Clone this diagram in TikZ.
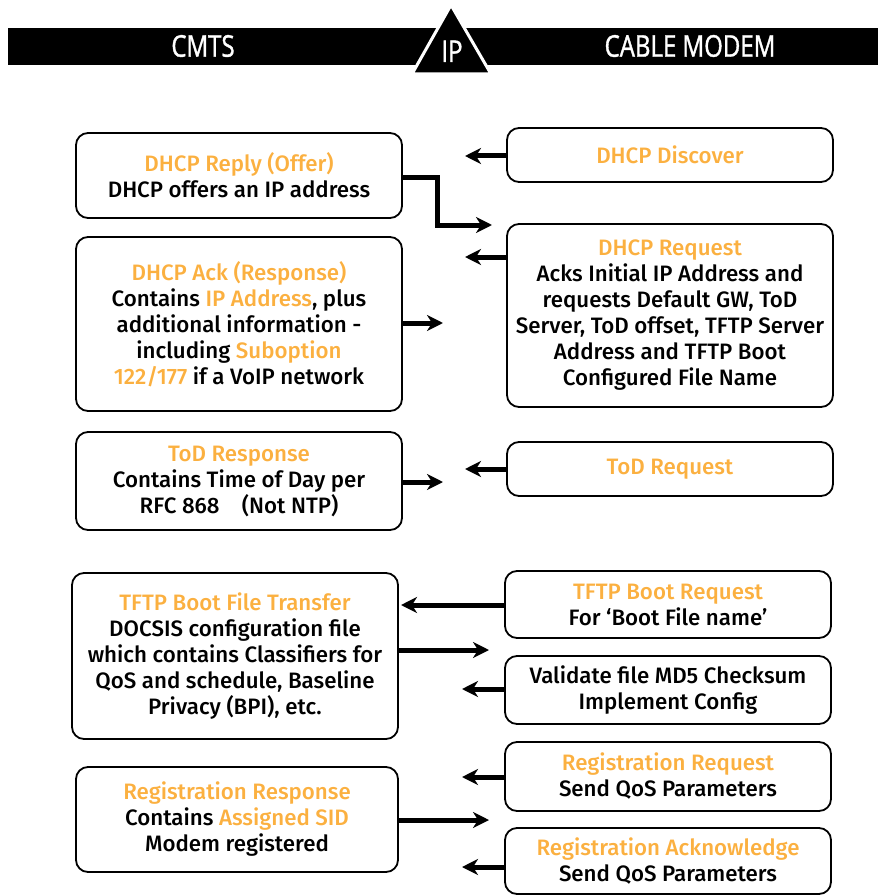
\documentclass[tikz,border=0pt]{standalone}
\usepackage{fontspec}
\setmainfont{Fira Sans Medium}
\newfontfamily\headfont{Open Sans}[FakeStretch=0.8, FakeBold=1.2]
\usetikzlibrary{arrows.meta}
\definecolor{dhcporange}{RGB}{251,176,64}
\newcommand{\hl}[1]{\textcolor{dhcporange}{#1}}
\tikzset{
  msgbox/.style={draw, line width=1.8pt, rounded corners=12pt, minimum width=326pt,
    align=center, inner sep=0pt, font=\fontsize{22.3}{26}\selectfont},
  flow/.style={line width=5pt, -{Stealth[length=16pt,width=16pt,inset=5pt]}},
  headtext/.style={text=white, font=\headfont\fontsize{30}{32}\selectfont}
}
\begin{document}
\begin{tikzpicture}[x=1pt,y=-1pt]
\useasboundingbox (0,0) rectangle (878,896);

\fill (8,28) rectangle (878,65);
\filldraw[draw=white, line width=3pt] (412,74) -- (451,5) -- (491,74) -- cycle;
\node[headtext] (cmts) at (203,46) {CMTS};
\node[headtext] (modem) at (690,46) {CABLE MODEM};
\node[headtext, anchor=base] (ip) at (452,62) {IP};

\node[msgbox, minimum height=85pt] (reply) at (239,175.5)
  {\hl{DHCP Reply (Offer)}\\DHCP offers an IP address};
\node[msgbox, minimum height=174pt] (ack) at (239,324)
  {\hl{DHCP Ack (Response)}\\Contains \hl{IP Address}, plus\\additional information -\\including \hl{Suboption}\\\hl{122/177} if a VoIP network};
\node[msgbox, minimum height=98pt] (todresp) at (239,481)
  {\hl{ToD Response}\\Contains Time of Day per\\RFC 868\quad(Not NTP)};
\node[msgbox, minimum height=166pt] (tftpxfer) at (235,656)
  {\hl{TFTP Boot File Transfer}\\DOCSIS configuration file\\which contains Classifiers for\\QoS and schedule, Baseline\\Privacy (BPI), etc.};
\node[msgbox, minimum height=105pt, minimum width=322pt] (regresp) at (237,819.5)
  {\hl{Registration Response}\\Contains \hl{Assigned SID}\\Modem registered};

\node[msgbox, minimum height=54pt] (discover) at (670,155) {\hl{DHCP Discover}};
\node[msgbox, minimum height=183pt] (request) at (670,315.5)
  {\hl{DHCP Request}\\Acks Initial IP Address and\\requests Default GW, ToD\\Server, ToD offset, TFTP Server\\Address and TFTP Boot\\Configured File Name};
\node[msgbox, minimum height=54pt] (todreq) at (670,469) {\hl{ToD Request}};
\node[msgbox, minimum height=67pt] (bootreq) at (668,604.5)
  {\hl{TFTP Boot Request}\\For `Boot File name'};
\node[msgbox, minimum height=68pt] (validate) at (668,690)
  {Validate file MD5 Checksum\\Implement Config};
\node[msgbox, minimum height=69pt] (regreq) at (668,776.5)
  {\hl{Registration Request}\\Send QoS Parameters};
\node[msgbox, minimum height=66pt] (regack) at (668,861)
  {\hl{Registration Acknowledge}\\Send QoS Parameters};

\coordinate (discoverend) at (465,156);
\coordinate (bend) at (437,178);
\coordinate (offerend) at (492,225);
\coordinate (requestend) at (465,257);
\coordinate (ackend) at (443,323);
\coordinate (todrespend) at (443,482);
\coordinate (todreqend) at (465,469);
\coordinate (bootreqend) at (401,605);
\coordinate (xferend) at (489,650);
\coordinate (validateend) at (462,689);
\coordinate (regreqend) at (462,777);
\coordinate (regrespend) at (489,820);
\coordinate (regackend) at (462,867);

\draw[flow] (discover.west |- discoverend) -- (discoverend);
\draw[flow] (reply.east |- bend) -- (bend) |- (offerend);
\draw[flow] (request.west |- requestend) -- (requestend);
\draw[flow] (ack.east |- ackend) -- (ackend);
\draw[flow] (todresp.east |- todrespend) -- (todrespend);
\draw[flow] (todreq.west |- todreqend) -- (todreqend);
\draw[flow] (bootreq.west |- bootreqend) -- (bootreqend);
\draw[flow] (tftpxfer.east |- xferend) -- (xferend);
\draw[flow] (validate.west |- validateend) -- (validateend);
\draw[flow] (regreq.west |- regreqend) -- (regreqend);
\draw[flow] (regresp.east |- regrespend) -- (regrespend);
\draw[flow] (regack.west |- regackend) -- (regackend);
\end{tikzpicture}
\end{document}
